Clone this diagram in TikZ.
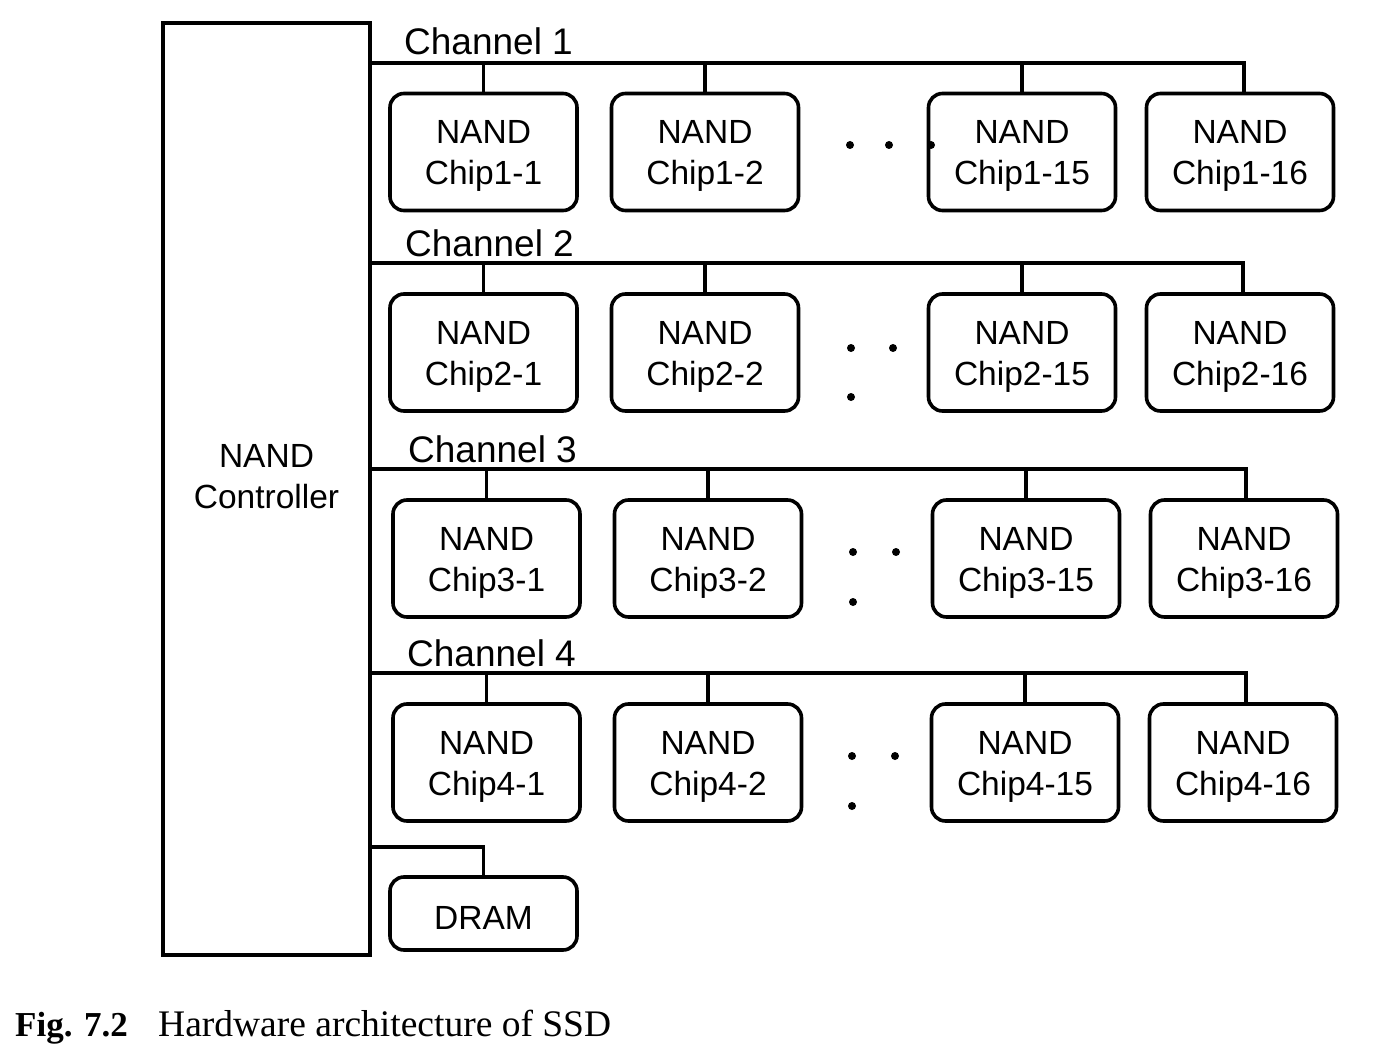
\documentclass[tikz,border=0pt]{standalone}
\usepackage{fontspec}
\setmainfont{Liberation Sans}
\newfontfamily\capfont{Liberation Serif}
\newcommand\twolines[3]{\raisebox{#1}[\height][\depth]{\begin{tabular}{@{}c@{}}#2\\#3\end{tabular}}}
\begin{document}
\begin{tikzpicture}[x=1pt,y=-1pt,
  chip/.style={draw, line width=3.6pt, rounded corners=14pt, minimum width=187pt,
    minimum height=117pt, inner sep=0pt,
    font=\fontsize{33.5}{41}\selectfont},
  bus/.style={line width=3.6pt},
  chlabel/.style={anchor=base west, inner sep=0pt, font=\fontsize{37}{42}\selectfont},
  dot/.style={circle, fill=black, inner sep=0pt, minimum size=8pt}]
\useasboundingbox (0,0) rectangle (1382,1062);
% controller
\node[draw, line width=3.6pt, minimum width=207pt, minimum height=932pt, inner sep=0pt,
  font=\fontsize{33.5}{41}\selectfont] (ctrl) at (266.5,489) {\twolines{9pt}{NAND}{Controller}};
% bus coordinates
\coordinate (b1) at (1244,63);
\coordinate (b2) at (1243,263);
\coordinate (b3) at (1246,469);
\coordinate (b4) at (1246,673);
\coordinate (bd) at (486,847);
% chips row 1
\node[chip] (c11) at (483.5,152) {\twolines{-4pt}{NAND}{Chip1-1}};
\node[chip] (c12) at (705,152) {\twolines{-4pt}{NAND}{Chip1-2}};
\node[chip] (c13) at (1022,152) {\twolines{-4pt}{NAND}{Chip1-15}};
\node[chip] (c14) at (1240,152) {\twolines{-4pt}{NAND}{Chip1-16}};
% row 2
\node[chip] (c21) at (483.5,352.5) {\twolines{-4pt}{NAND}{Chip2-1}};
\node[chip] (c22) at (705,352.5) {\twolines{-4pt}{NAND}{Chip2-2}};
\node[chip] (c23) at (1022,352.5) {\twolines{-4pt}{NAND}{Chip2-15}};
\node[chip] (c24) at (1240,352.5) {\twolines{-4pt}{NAND}{Chip2-16}};
% row 3
\node[chip] (c31) at (486.5,558.5) {\twolines{-4pt}{NAND}{Chip3-1}};
\node[chip] (c32) at (708,558.5) {\twolines{-4pt}{NAND}{Chip3-2}};
\node[chip] (c33) at (1026,558.5) {\twolines{-4pt}{NAND}{Chip3-15}};
\node[chip] (c34) at (1244,558.5) {\twolines{-4pt}{NAND}{Chip3-16}};
% row 4
\node[chip] (c41) at (486.5,762.5) {\twolines{-4pt}{NAND}{Chip4-1}};
\node[chip] (c42) at (708,762.5) {\twolines{-4pt}{NAND}{Chip4-2}};
\node[chip] (c43) at (1025,762.5) {\twolines{-4pt}{NAND}{Chip4-15}};
\node[chip] (c44) at (1243,762.5) {\twolines{-4pt}{NAND}{Chip4-16}};
% DRAM
\node[chip, minimum height=73pt] (dram) at (483.5,913.5) {\raisebox{-4pt}[\height][\depth]{DRAM}};
% channel labels
\node[chlabel] (l1) at (404,55) {Channel 1};
\node[chlabel] (l2) at (405,256) {Channel 2};
\node[chlabel] (l3) at (408,462) {Channel 3};
\node[chlabel] (l4) at (407,666) {Channel 4};
% buses
\foreach \r in {1,2,3,4}{
  \draw[bus] (ctrl.east |- b\r) -- (b\r) -- (b\r |- c\r4.north);
  \draw[bus] (c\r1.north |- b\r) -- (c\r1.north);
  \draw[bus] (c\r2.north |- b\r) -- (c\r2.north);
  \draw[bus] (c\r3.north |- b\r) -- (c\r3.north);
}
\draw[bus] (ctrl.east |- bd) -| (dram.north);
% dots
\node[dot] (d11) at (850,145) {};
\node[dot] (d12) at (889,145) {};
\node[dot] (d13) at (931,145) {};
\node[dot] (d21) at (851,348) {};
\node[dot] (d22) at (893,348) {};
\node[dot] (d23) at (851,397) {};
\node[dot] (d31) at (853,552) {};
\node[dot] (d32) at (896,552) {};
\node[dot] (d33) at (853,602) {};
\node[dot] (d41) at (852,756) {};
\node[dot] (d42) at (895,756) {};
\node[dot] (d43) at (852,806) {};
% caption
\node[anchor=base west, inner sep=0pt, font=\capfont\bfseries\fontsize{35}{40}\selectfont] (fig) at (15,1036) {Fig. 7.2};
\node[anchor=base west, inner sep=0pt, font=\capfont\fontsize{37.5}{42}\selectfont] (cap) at (158,1036) {Hardware architecture of SSD};
\end{tikzpicture}
\end{document}
